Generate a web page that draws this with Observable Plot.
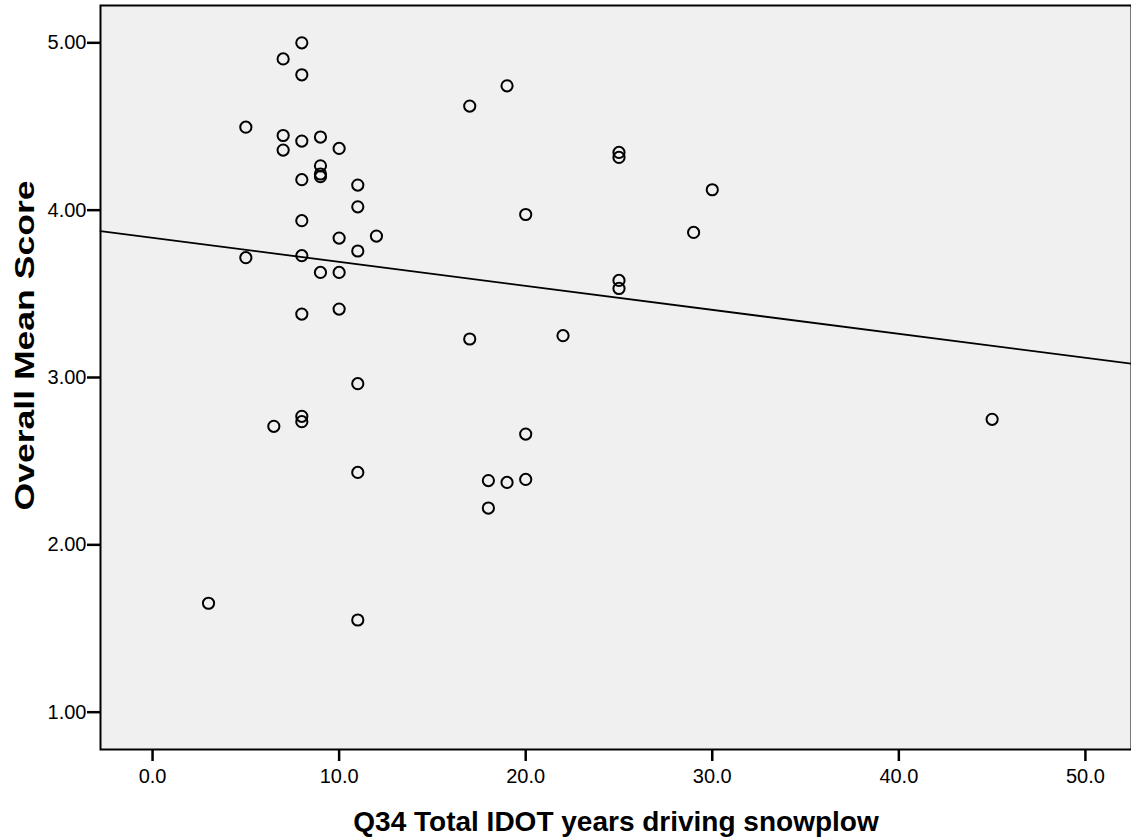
<!DOCTYPE html>
<html><head><meta charset="utf-8">
<script src="https://cdn.jsdelivr.net/npm/d3@7"></script>
<script src="https://cdn.jsdelivr.net/npm/@observablehq/plot@0.6"></script>
<style>body{margin:0;background:#fff;} svg{display:block}</style>
</head><body><div id="chart"></div>
<script>
const years = [8,7,8,5,7,7,8,9,10,9,9,9,8,11,11,8,10,12,11,5,8,9,10,8,10,11,8,8,6.5,11,3,11,
  19,17,25,25,30,20,29,25,25,17,22,20,18,19,20,18,45];
const scores = [5.00,4.904,4.809,4.496,4.446,4.359,4.413,4.437,4.369,4.265,4.216,4.200,4.182,4.150,4.020,3.937,
  3.833,3.845,3.756,3.716,3.728,3.628,3.628,3.379,3.409,2.963,2.768,2.736,2.708,2.433,1.651,1.551,
  4.743,4.622,4.345,4.315,4.122,3.974,3.867,3.580,3.532,3.230,3.250,2.662,2.384,2.373,2.391,2.220,2.750];
const xTicks = [0,10,20,30,40,50];
const yTicks = [1,2,3,4,5];
const xLabel = "Q34 Total IDOT years driving snowplow";
const yLabel = "Overall Mean Score";

const data = years.map((x,i)=>({x, y: scores[i]}));
const xDomain = [-2.79, 52.47];
const yDomain = [0.777, 5.223];
const mx = d3.mean(years), my = d3.mean(scores);
const slope = d3.sum(data, d => (d.x-mx)*(d.y-my)) / d3.sum(data, d => (d.x-mx)**2);
const icpt = my - slope*mx;
const fit = xDomain.map(x => ({x, y: icpt + slope*x}));

const font = "'Liberation Sans', Arial, sans-serif";
const chart = Plot.plot({
  width:1131, height:838,
  marginLeft:100, marginRight:0, marginTop:5, marginBottom:89,
  style:{background:"#fff", fontFamily:font, color:"#000"},
  x:{domain:xDomain},
  y:{domain:yDomain},
  marks:[
    Plot.frame({fill:"#f0f0f0"}),
    Plot.line(fit, {x:"x", y:"y", stroke:"#000", strokeWidth:1.8}),
    Plot.dot(data, {x:"x", y:"y", r:5.6, stroke:"#000", strokeWidth:2, fill:"none"}),
    Plot.frame({stroke:"#000", strokeWidth:2}),
    Plot.axisX({ticks:xTicks, tickFormat:d3.format(".1f"), tickSize:12, tickPadding:7, fontSize:20,
      fontFamily:font, strokeWidth:2.5, label:null}),
    Plot.axisY({ticks:yTicks, tickFormat:d3.format(".2f"), tickSize:13, tickPadding:1, fontSize:20, fontFamily:font, strokeWidth:2.5, label:null}),
    Plot.text([xLabel], {frameAnchor:"bottom", lineAnchor:"bottom", dy:81, fontSize:28, fontWeight:"bold", fontFamily:font}),
    Plot.text([yLabel], {frameAnchor:"left", rotate:-90, textAnchor:"start", lineAnchor:"bottom", dx:-67, dy:133, fontSize:27, fontWeight:"bold", fontFamily:font})
  ]
});
document.getElementById("chart").appendChild(chart);
chart.querySelectorAll("text").forEach(t => {
  if (t.textContent === yLabel) { t.setAttribute("textLength", 330); t.setAttribute("lengthAdjust", "spacingAndGlyphs"); }
});
</script></body></html>
